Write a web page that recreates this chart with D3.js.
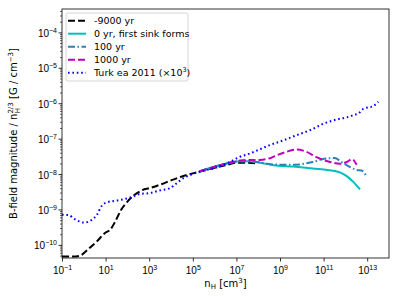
<!DOCTYPE html>
<html>
<head>
<meta charset="utf-8">
<script src="https://cdn.jsdelivr.net/npm/d3@7"></script>
<style>
  html, body { margin: 0; padding: 0; background: #fff; }
  svg { display: block; font-family: "DejaVu Sans", sans-serif; }
</style>
</head>
<body>
<div id="chart"></div>
<script>
/* data: [log10 nH, log10 (B / nH^2/3)] */
const seriesM9000 = [
  [-1, -10.33], [-0.5, -10.33], [-0.2, -10.31], [0.2, -10.12], [0.6, -9.9], [1.0, -9.65],
  [1.2, -9.58], [1.45, -9.33], [1.7, -9.02], [2.0, -8.78], [2.3, -8.6], [2.7, -8.45],
  [3.0, -8.4], [3.5, -8.3], [4.0, -8.18], [4.5, -8.07], [5.0, -7.98], [5.5, -7.9],
  [6.0, -7.82], [6.5, -7.75], [7.0, -7.68], [7.5, -7.68], [7.9, -7.7]
];
const series0 = [
  [5.33, -7.92], [5.8, -7.83], [6.25, -7.75], [6.7, -7.68], [7.17, -7.64], [7.6, -7.64],
  [8.08, -7.68], [8.7, -7.75], [9.6, -7.79], [10.5, -7.84], [11.1, -7.88], [11.7, -7.94],
  [12.06, -8.06], [12.36, -8.22], [12.67, -8.43]
];
const series100 = [
  [5.33, -7.92], [6.25, -7.75], [7.17, -7.64], [7.6, -7.64], [8.08, -7.67], [8.7, -7.73],
  [9.6, -7.74], [10.5, -7.66], [11.1, -7.56], [11.5, -7.55], [11.83, -7.66], [12.2, -7.8],
  [12.5, -7.88], [12.75, -7.9], [12.95, -8.05]
];
const series1000 = [
  [5.33, -7.92], [5.8, -7.83], [6.25, -7.75], [6.7, -7.68], [7.17, -7.62], [7.6, -7.6],
  [8.08, -7.6], [8.5, -7.56], [8.85, -7.47], [9.3, -7.37], [9.77, -7.31], [10.2, -7.37],
  [10.7, -7.53], [11.3, -7.66], [11.75, -7.71], [12.06, -7.66], [12.3, -7.58], [12.52, -7.74]
];
const seriesTurk = [
  [-1, -9.15], [-0.7, -9.16], [-0.4, -9.28], [0, -9.37], [0.35, -9.3], [0.6, -9.15],
  [0.82, -8.9], [1.05, -8.8], [1.6, -8.74], [2.2, -8.65], [2.6, -8.56], [3.0, -8.54],
  [3.5, -8.46], [3.95, -8.4], [4.26, -8.26], [4.6, -8.1], [4.87, -8.03], [5.33, -7.93],
  [5.94, -7.84], [6.56, -7.7], [7.17, -7.51], [7.62, -7.42], [8.08, -7.3], [8.54, -7.18],
  [9.15, -7.05], [9.77, -6.9], [10.38, -6.76], [10.99, -6.58], [11.6, -6.46], [12.06, -6.4],
  [12.4, -6.33], [12.6, -6.29], [12.82, -6.16], [13.28, -6.08], [13.51, -5.96]
];

const xTickExps = [-1, 1, 3, 5, 7, 9, 11, 13];
const yTickExps = [-10, -9, -8, -7, -6, -5, -4];
const legendLabels = ["-9000 yr", "0 yr, first sink forms", "100 yr", "1000 yr", "Turk ea 2011 (\u00d710"];

const SERIES = [
  { data: seriesM9000, color: "#000000", dash: "7,3",           width: 2 },
  { data: series0,     color: "#00bfbf", dash: null,            width: 2 },
  { data: series100,   color: "#2f7fb8", dash: "7,2.5,1.5,2.5", width: 2 },
  { data: series1000,  color: "#bf00bf", dash: "7,3",           width: 2 },
  { data: seriesTurk,  color: "#0000ff", dash: "1.6,2.8",       width: 2 }
];

const W = 399, H = 299;
const margin = { top: 9, right: 10, bottom: 41, left: 62 };
const w = W - margin.left - margin.right;
const h = H - margin.top - margin.bottom;

const x = d3.scaleLog().domain([1e-1, 1e14]).range([0, w]);
const y = d3.scaleLog().domain([Math.pow(10, -10.37), Math.pow(10, -3.34)]).range([h, 0]);

const svg = d3.select("#chart").append("svg")
  .attr("width", W).attr("height", H);
const g = svg.append("g").attr("transform", `translate(${margin.left},${margin.top})`);

// clip
g.append("clipPath").attr("id", "clip")
  .append("rect").attr("width", w).attr("height", h);

// lines
const line = d3.line()
  .x(d => x(Math.pow(10, d[0])))
  .y(d => y(Math.pow(10, d[1])))
  .curve(d3.curveMonotoneX);

const lines = g.append("g").attr("clip-path", "url(#clip)");
SERIES.forEach(s => {
  lines.append("path").datum(s.data)
    .attr("fill", "none")
    .attr("stroke", s.color)
    .attr("stroke-width", s.width)
    .attr("stroke-dasharray", s.dash)
    .attr("d", line);
});

// x axis
const xAxis = g.append("g").attr("transform", `translate(0,${h})`)
  .call(d3.axisBottom(x).tickValues(xTickExps.map(e => Math.pow(10, e))).tickSize(3.5).tickPadding(2).tickFormat(""));
xAxis.select(".domain").remove();
xAxis.selectAll(".tick line").attr("stroke", "#000").attr("stroke-width", 0.8);
xAxis.selectAll(".tick").append("text")
  .attr("y", 16).attr("text-anchor", "middle").attr("fill", "#000").attr("font-size", "10px")
  .each(function(d) {
    const t = d3.select(this);
    const e = Math.round(Math.log10(d));
    t.append("tspan").text("10");
    t.append("tspan").attr("dy", -4).attr("font-size", "7px").text(e < 0 ? "\u2212" + (-e) : e);
  });

// y axis: majors + minors
const yMinor = [];
for (let e = -11; e <= -3; e++) for (let k = 2; k <= 9; k++) {
  const v = k * Math.pow(10, e);
  if (v >= y.domain()[0] && v <= y.domain()[1]) yMinor.push(v);
}
const yAxisMinor = g.append("g")
  .call(d3.axisLeft(y).tickValues(yMinor).tickSize(2).tickFormat(""));
yAxisMinor.select(".domain").remove();
yAxisMinor.selectAll(".tick line").attr("stroke", "#000").attr("stroke-width", 0.6);

const yAxis = g.append("g")
  .call(d3.axisLeft(y).tickValues(yTickExps.map(e => Math.pow(10, e))).tickSize(3.5).tickFormat(""));
yAxis.select(".domain").remove();
yAxis.selectAll(".tick line").attr("stroke", "#000").attr("stroke-width", 0.8);
yAxis.selectAll(".tick").append("text")
  .attr("x", -5).attr("y", 4).attr("text-anchor", "end").attr("fill", "#000").attr("font-size", "10px")
  .each(function(d) {
    const t = d3.select(this);
    const e = Math.round(Math.log10(d));
    t.append("tspan").text("10");
    t.append("tspan").attr("dy", -4).attr("font-size", "7px").text("\u2212" + (-e));
  });

// frame
g.append("rect").attr("width", w).attr("height", h)
  .attr("fill", "none").attr("stroke", "#000").attr("stroke-width", 0.8);

// axis labels
const xl = svg.append("text")
  .attr("x", margin.left + w / 2).attr("y", 287)
  .attr("text-anchor", "middle").attr("font-size", "10px").attr("fill", "#000");
xl.append("tspan").text("n");
xl.append("tspan").attr("dy", 2).attr("font-size", "7px").text("H");
xl.append("tspan").attr("dy", -2).text(" [cm");
xl.append("tspan").attr("dy", -4).attr("font-size", "7px").text("3");
xl.append("tspan").attr("dy", 4).text("]");

const yl = svg.append("text")
  .attr("transform", `translate(17,${margin.top + h / 2}) rotate(-90)`)
  .attr("text-anchor", "middle").attr("font-size", "10px").attr("fill", "#000");
yl.append("tspan").text("B-field magnitude / n");
yl.append("tspan").attr("dy", -4).attr("font-size", "7px").text("2/3");
yl.append("tspan").attr("dy", 6.5).attr("dx", -11).attr("font-size", "7px").text("H");
yl.append("tspan").attr("dy", -2.5).attr("dx", 6).text(" [G / cm");
yl.append("tspan").attr("dy", -4).attr("font-size", "7px").text("\u22123");
yl.append("tspan").attr("dy", 4).text("]");

// legend
const leg = svg.append("g").attr("transform", "translate(66,13)");
leg.append("rect").attr("width", 122).attr("height", 68).attr("rx", 2)
  .attr("fill", "#fff").attr("fill-opacity", 0.8)
  .attr("stroke", "#ccc").attr("stroke-width", 0.8);
SERIES.forEach((s, i) => {
  const yy = 7.7 + i * 13;
  leg.append("line").attr("x1", 2).attr("x2", 20).attr("y1", yy).attr("y2", yy)
    .attr("stroke", s.color).attr("stroke-width", s.width)
    .attr("stroke-dasharray", s.dash);
  const t = leg.append("text").attr("x", 28).attr("y", yy + 3.5)
    .attr("font-size", "9.5px").attr("fill", "#000");
  t.append("tspan").text(legendLabels[i]);
  if (i === 4) {
    t.append("tspan").attr("dy", -4).attr("font-size", "6.5px").text("3");
    t.append("tspan").attr("dy", 4).text(")");
  }
});
</script>
</body>
</html>
